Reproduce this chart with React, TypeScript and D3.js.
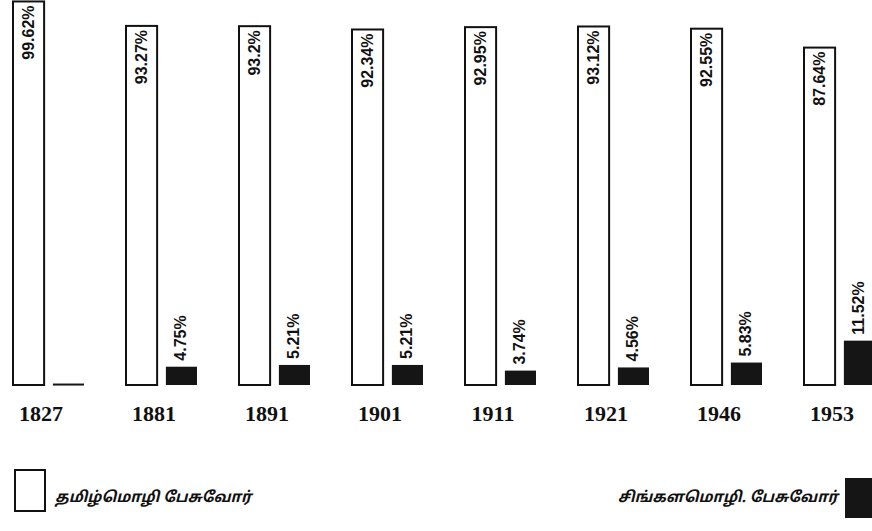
import React from "react";
import * as d3 from "d3";

const width = 872;
const height = 531;
const baseline = 385;

const years = ["1827", "1881", "1891", "1901", "1911", "1921", "1946", "1953"];
const tamilValues = [99.62, 93.27, 93.2, 92.34, 92.95, 93.12, 92.55, 87.64];
const sinhalaValues = [0.38, 4.75, 5.21, 5.21, 3.74, 4.56, 5.83, 11.52];
// the 1827 Sinhala bar has no label in the figure
const sinhalaLabels = ["", "4.75%", "5.21%", "5.21%", "3.74%", "4.56%", "5.83%", "11.52%"];
const tamilLabels = ["99.62%", "93.27%", "93.2%", "92.34%", "92.95%", "93.12%", "92.55%", "87.64%"];
const legendTamil = "தமிழ்மொழி பேசுவோர்";
const legendSinhala = "சிங்களமொழி. பேசுவோர்";

const labelFont = "'Liberation Sans Narrow', 'Liberation Sans', Arial, sans-serif";
const yearFont = "'Liberation Serif', 'DejaVu Serif', serif";
const tamilFont = "'Noto Sans Tamil', 'Lohit Tamil', 'Noto Sans', sans-serif";

export default function App() {
  const x = d3
    .scaleBand()
    .domain(years)
    .range([13, 13 + 113 * years.length])
    .paddingInner(0);

  const inner = d3
    .scaleBand()
    .domain(["tamil", "sinhala"])
    .range([0, 71])
    .paddingInner(0.22);

  const y = d3.scaleLinear().domain([0, 100]).range([baseline, 0]);

  return (
    <svg
      width={width}
      height={height}
      style={{ position: "absolute", left: 0, top: 0, background: "#fff" }}
    >
      {years.map((yr, i) => {
        const gx = x(yr) as number;
        const tx = gx + (inner("tamil") as number);
        const sx = gx + (inner("sinhala") as number);
        const bw = inner.bandwidth();
        const tTop = y(tamilValues[i]);
        const sTop = y(sinhalaValues[i]);
        return (
          <g key={yr}>
            <rect
              x={tx}
              y={tTop}
              width={bw}
              height={baseline - tTop}
              fill="#fff"
              stroke="#111"
              strokeWidth={2}
            />
            <text
              transform={`translate(${tx + bw / 2 + 5}, ${tTop + 4}) rotate(-90)`}
              textAnchor="end"
              fontFamily={labelFont}
              fontWeight="bold"
              fontSize={16}
              fill="#111"
            >
              {tamilLabels[i]}
            </text>
            <rect
              x={sx}
              y={sTop}
              width={bw}
              height={Math.max(baseline - sTop, 2)}
              fill="#151515"
            />
            {sinhalaLabels[i] && (
              <text
                transform={`translate(${sx + bw / 2 + 5}, ${sTop - 6}) rotate(-90)`}
                textAnchor="start"
                fontFamily={labelFont}
                fontWeight="bold"
                fontSize={16}
                fill="#111"
              >
                {sinhalaLabels[i]}
              </text>
            )}
            <text
              x={gx + 28}
              y={421}
              textAnchor="middle"
              fontFamily={yearFont}
              fontWeight="bold"
              fontSize={22}
              fill="#111"
            >
              {yr}
            </text>
          </g>
        );
      })}

      {/* legend */}
      <rect x={15} y={470} width={30} height={41} fill="#fff" stroke="#111" strokeWidth={2} />
      <text
        x={55}
        y={502}
        fontFamily={tamilFont}
        fontStyle="italic"
        fontWeight="bold"
        fontSize={15}
        fill="#111"
      >
        {legendTamil}
      </text>
      <text
        x={838}
        y={502}
        textAnchor="end"
        fontFamily={tamilFont}
        fontStyle="italic"
        fontWeight="bold"
        fontSize={15}
        fill="#111"
      >
        {legendSinhala}
      </text>
      <rect x={845} y={478} width={30} height={40} fill="#151515" />
    </svg>
  );
}
